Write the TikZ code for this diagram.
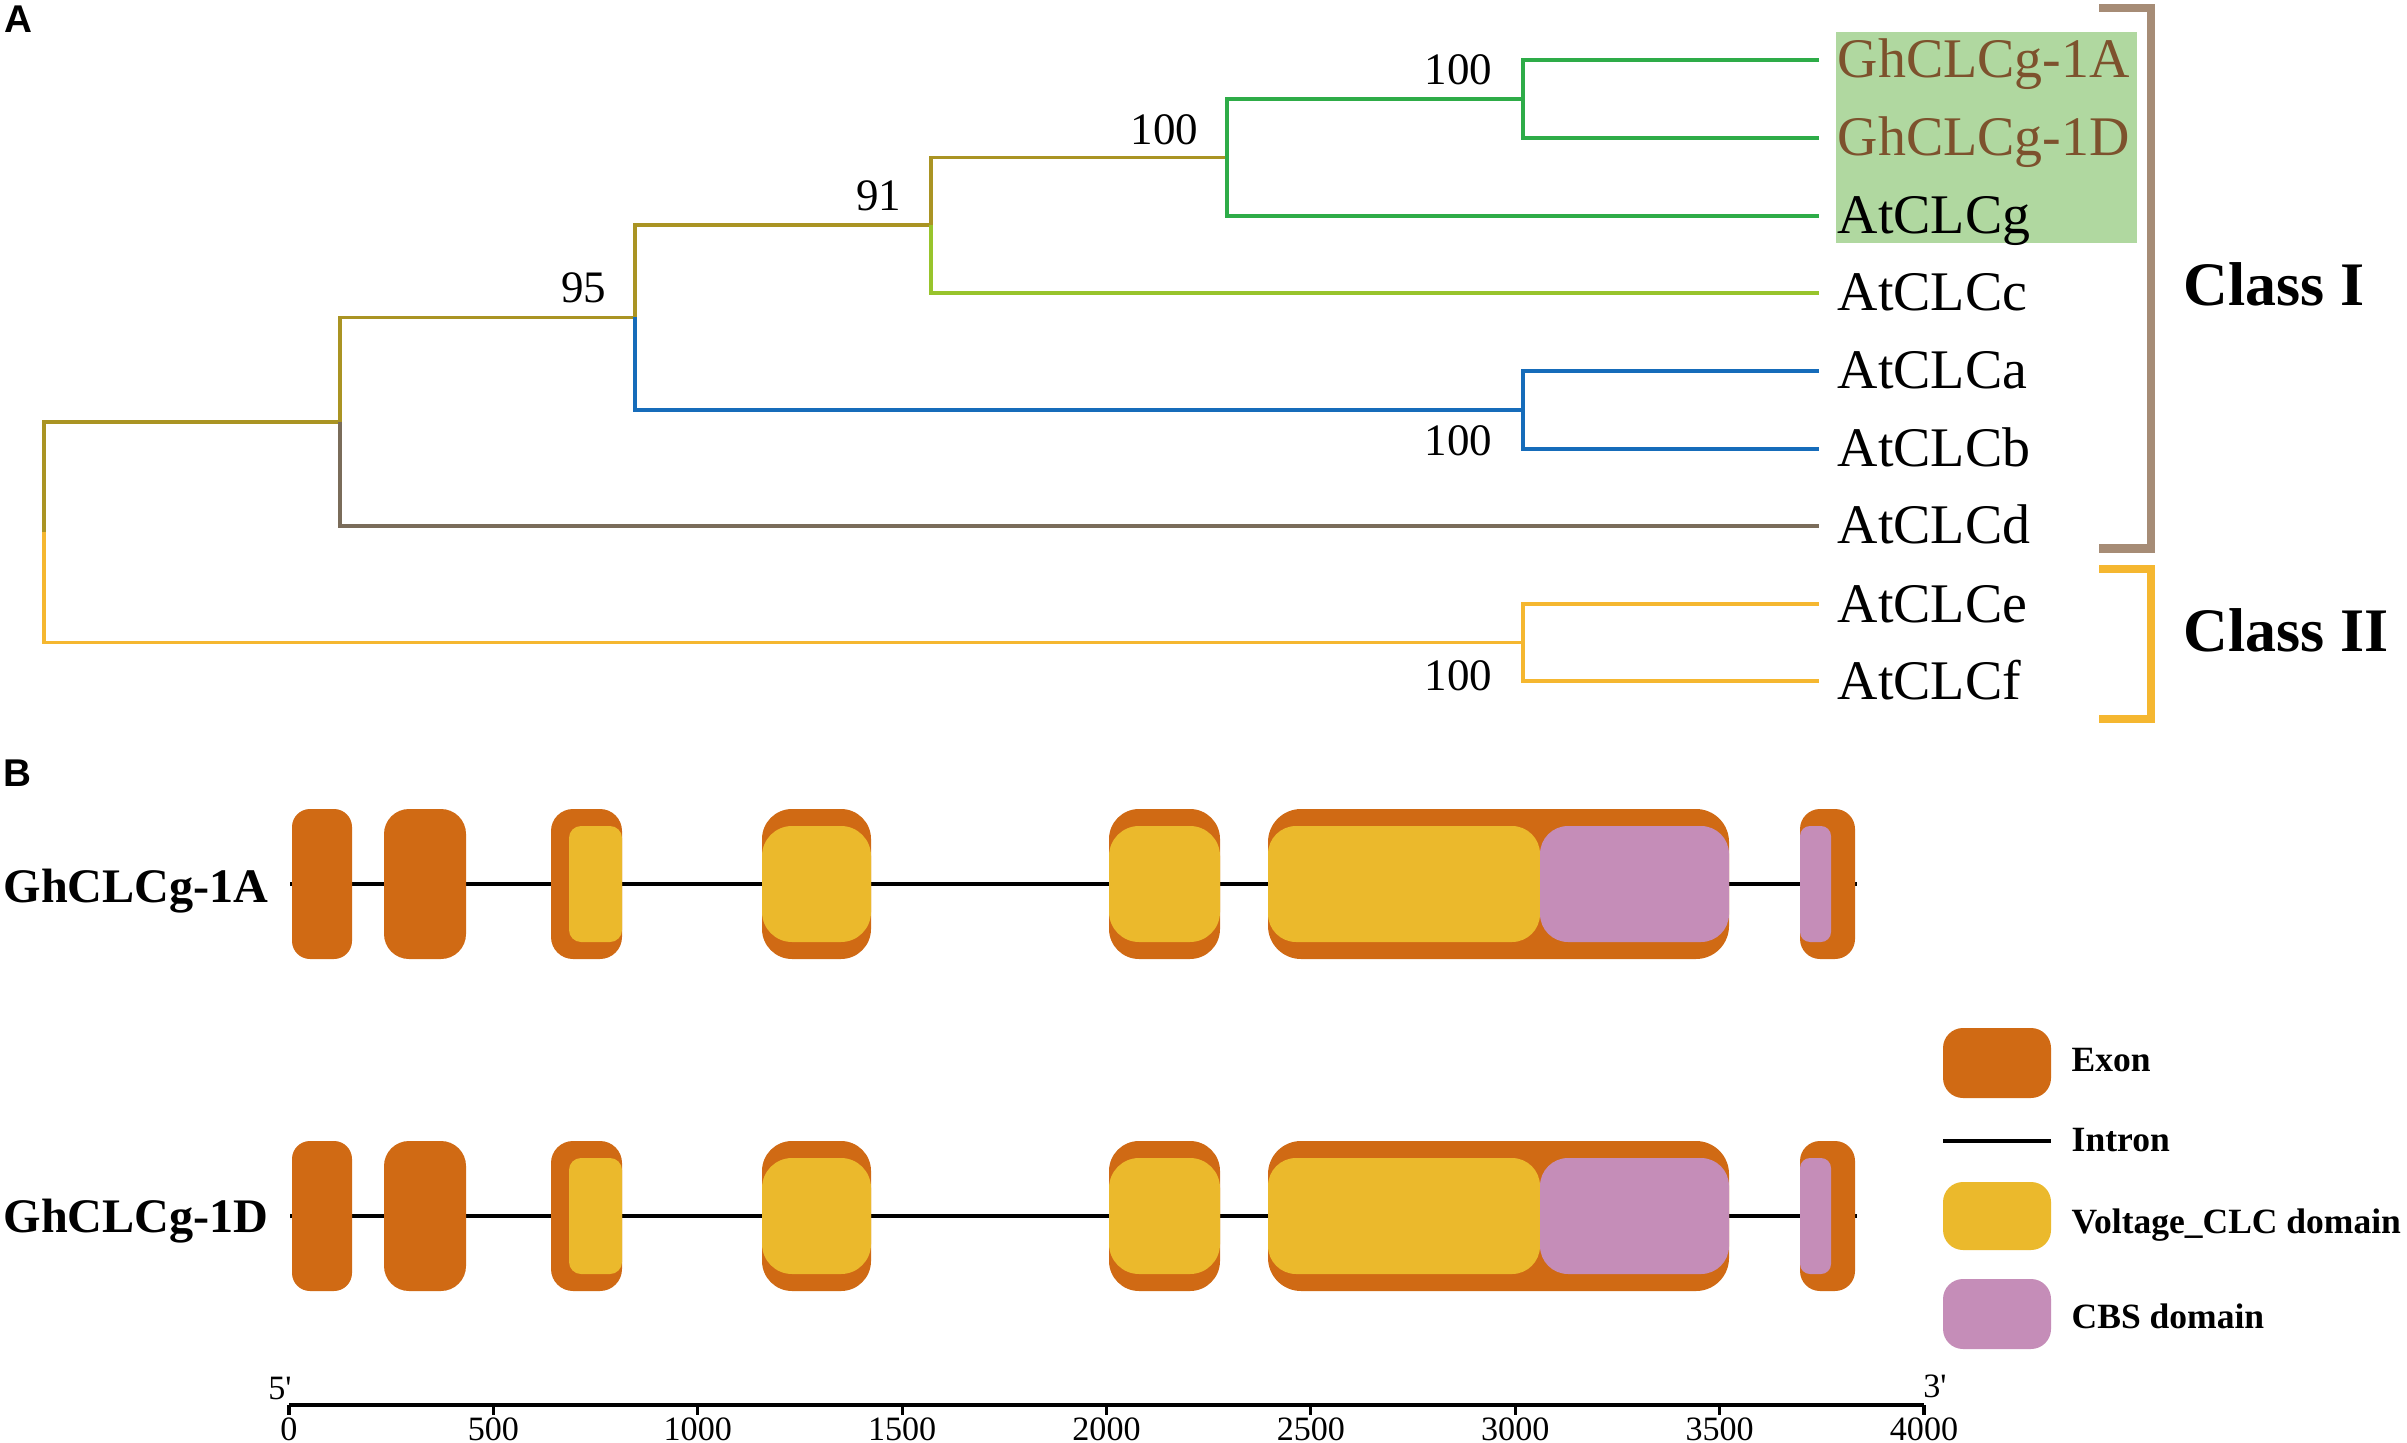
\documentclass[tikz,border=0pt]{standalone}
\usepackage{fontspec}
\setmainfont{Liberation Serif}
\newfontfamily\panelfont{Liberation Sans}
\definecolor{olive}{RGB}{170,148,35}
\definecolor{ygreen}{RGB}{152,196,44}
\definecolor{tgreen}{RGB}{46,172,72}
\definecolor{tblue}{RGB}{22,108,186}
\definecolor{gbrown}{RGB}{122,108,90}
\definecolor{tyellow}{RGB}{245,183,48}
\definecolor{brkbrown}{RGB}{166,140,118}
\definecolor{hlgreen}{RGB}{176,216,160}
\definecolor{ghtext}{RGB}{125,82,45}
\definecolor{exonc}{RGB}{208,106,20}
\definecolor{voltc}{RGB}{235,185,44}
\definecolor{cbsc}{RGB}{197,141,184}
\tikzset{
  branch/.style={line width=1.0pt},
  leaflab/.style={anchor=base west, inner sep=0pt, font=\fontsize{15.9pt}{18pt}\selectfont},
  boot/.style={anchor=base east, inner sep=0pt, font=\fontsize{12.8pt}{15pt}\selectfont},
  classlab/.style={anchor=base west, inner sep=0pt, font=\fontsize{17.6pt}{20pt}\selectfont\bfseries},
  bracket/.style={line width=2.3pt},
  genelab/.style={anchor=base west, inner sep=0pt, font=\fontsize{13.7pt}{16pt}\selectfont\bfseries},
  axnum/.style={anchor=base, inner sep=0pt, font=\fontsize{9.7pt}{11pt}\selectfont},
  leglab/.style={anchor=base west, inner sep=0pt, font=\fontsize{10.1pt}{12pt}\selectfont\bfseries},
  panellab/.style={anchor=base west, inner sep=0pt, font=\fontsize{11pt}{13pt}\selectfont\panelfont\bfseries},
  intron/.style={line width=1.4pt, black},
}
\begin{document}
\begin{tikzpicture}[x=0.01cm, y=-0.01cm]
\useasboundingbox (0,0) rectangle (2407,1443);
\fill[white] (0,0) rectangle (2407,1443);

% ---------------- Panel A ----------------
\node[panellab] (pA) at (4,33) {A};
\fill[hlgreen] (1836,32) rectangle (2137,243);

\coordinate (root) at (44,532);
\coordinate (n2) at (340,422);
\coordinate (n95) at (635,317.5);
\coordinate (n91) at (931,225);
\coordinate (n100g) at (1227,157.5);
\coordinate (n100t) at (1523,99);
\coordinate (nblue) at (1523,410);
\coordinate (nyel) at (1523,642.5);
\coordinate (l1A) at (1819,60);
\coordinate (l1D) at (1819,138);
\coordinate (lg) at (1819,216);
\coordinate (lc) at (1819,293);
\coordinate (la) at (1819,371);
\coordinate (lb) at (1819,449);
\coordinate (ld) at (1819,526);
\coordinate (le) at (1819,604);
\coordinate (lf) at (1819,681);

\draw[branch, olive] (root) |- (n2);
\draw[branch, olive] (n2) |- (n95);
\draw[branch, olive] (n95) |- (n91);
\draw[branch, olive] (n91) |- (n100g);
\draw[branch, tgreen] (n100g) |- (n100t);
\draw[branch, tgreen] (n100t) |- (l1A);
\draw[branch, tgreen] (n100t) |- (l1D);
\draw[branch, tgreen] (n100g) |- (lg);
\draw[branch, ygreen] (n91) |- (lc);
\draw[branch, tblue] (n95) |- (nblue);
\draw[branch, tblue] (nblue) |- (la);
\draw[branch, tblue] (nblue) |- (lb);
\draw[branch, gbrown] (n2) |- (ld);
\draw[branch, tyellow] (root) |- (nyel);
\draw[branch, tyellow] (nyel) |- (le);
\draw[branch, tyellow] (nyel) |- (lf);

\node[leaflab, text=ghtext] (t1A) at (1837,78) {GhCLCg-1A};
\node[leaflab, text=ghtext] (t1D) at (1837,156) {GhCLCg-1D};
\node[leaflab] (tg) at (1837,234) {AtCLCg};
\node[leaflab] (tc) at (1837,311) {AtCLCc};
\node[leaflab] (ta) at (1837,389) {AtCLCa};
\node[leaflab] (tb) at (1837,467) {AtCLCb};
\node[leaflab] (td) at (1837,544) {AtCLCd};
\node[leaflab] (te) at (1837,622) {AtCLCe};
\node[leaflab] (tf) at (1837,699) {AtCLCf};

\node[boot] (b1) at (1493,85) {100};
\node[boot] (b2) at (1199,145) {100};
\node[boot] (b3) at (902,211) {91};
\node[boot] (b4) at (607,303) {95};
\node[boot] (b5) at (1493,456) {100};
\node[boot] (b6) at (1493,690) {100};

\draw[bracket, brkbrown] (2099,8) -- (2151,8) -- (2151,548.5) -- (2099,548.5);
\draw[bracket, tyellow] (2099,569) -- (2151,569) -- (2151,719) -- (2099,719);
\node[classlab] (c1) at (2183,306) {Class I};
\node[classlab] (c2) at (2183,651) {Class II};

% ---------------- Panel B ----------------
\node[panellab] (pB) at (3,786) {B};

\foreach \gy/\gn in {884/A,1216/D}{
  \draw[intron] (290,\gy) -- (1857,\gy);
  \foreach \a/\b/\r in {292/352/0.18, 384/466/0.25, 551/622/0.22, 762/871/0.3, 1109/1220/0.3, 1268/1729/0.33, 1800/1855/0.2}{
    \fill[exonc, rounded corners=\r cm] (\a,\gy-75) rectangle (\b,\gy+75);
  }
  \foreach \a/\b/\r in {569/622/0.12, 762/871/0.3, 1109/1220/0.3, 1268/1540/0.28}{
    \fill[voltc, rounded corners=\r cm] (\a,\gy-58) rectangle (\b,\gy+58);
  }
  \foreach \a/\b/\r in {1540/1729/0.28, 1800/1831/0.1}{
    \fill[cbsc, rounded corners=\r cm] (\a,\gy-58) rectangle (\b,\gy+58);
  }
}
\node[genelab] (g1A) at (3,902) {GhCLCg-1A};
\node[genelab] (g1D) at (3,1232) {GhCLCg-1D};

% legend
\fill[exonc, rounded corners=0.2cm] (1943,1028) rectangle (2051,1098);
\draw[intron] (1943,1141) -- (2051,1141);
\fill[voltc, rounded corners=0.2cm] (1943,1182) rectangle (2051,1250);
\fill[cbsc, rounded corners=0.2cm] (1943,1279) rectangle (2051,1349);
\node[leglab] (lgE) at (2071,1071) {Exon};
\node[leglab] (lgI) at (2071,1151) {Intron};
\node[leglab] (lgV) at (2071,1233) {Voltage\_CLC domain};
\node[leglab] (lgC) at (2071,1328) {CBS domain};

% scale axis
\draw[line width=1.4pt] (289,1405) -- (1924,1405);
\foreach \v in {0,500,...,4000}{
  \draw[line width=0.9pt] ({289+0.40875*\v},1405) -- ({289+0.40875*\v},1415);
  \node[axnum] at ({289+0.40875*\v},1440) {\v};
}
\node[axnum] (five) at (280,1399) {5\textquotesingle};
\node[axnum] (three) at (1935,1397) {3\textquotesingle};
\end{tikzpicture}
\end{document}
